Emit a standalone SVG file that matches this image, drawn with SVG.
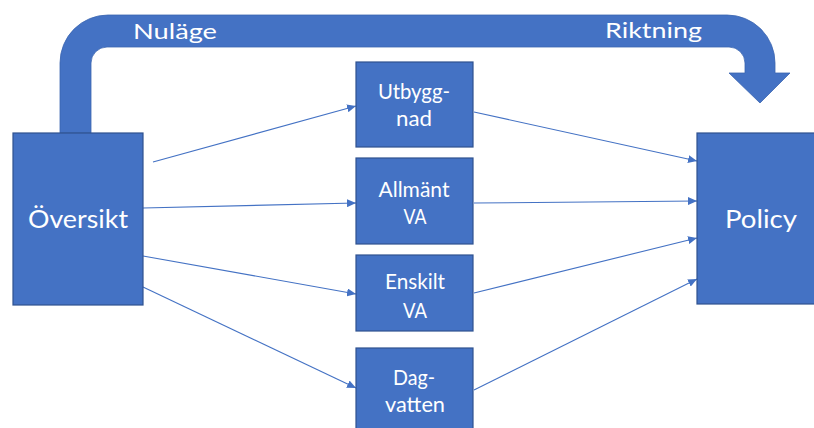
<svg xmlns="http://www.w3.org/2000/svg" width="814" height="428" viewBox="0 0 814 428">
<style>
.box{fill:#4472C4;stroke:#2F528F;stroke-width:1.2}
.big{fill:#4472C4;stroke:#3a64b0;stroke-width:0.8}
.t{fill:#ffffff;font-family:Lato,"Open Sans","Liberation Sans",sans-serif;text-anchor:middle}
.s{font-size:21px}
.l{font-size:25px}
.h{font-size:22px;text-anchor:start}
.c{stroke:#4472C4;stroke-width:1.1;fill:none;marker-end:url(#ah)}
</style>
<defs>
<marker id="ah" markerUnits="userSpaceOnUse" markerWidth="10" markerHeight="8" refX="9" refY="4" orient="auto">
<path d="M0,0 L9,4 L0,8 Z" fill="#4472C4"/>
</marker>
</defs>
<g id="loop-arrow">
<path class="big" d="M60,133 L60,63 A48,48 0 0 1 108,15 L727,15 A48,48 0 0 1 775,63 L775,73 L790,73 L760,103 L729,73 L745,73 L745,63 A16,16 0 0 0 729,47 L107,47 A16,16 0 0 0 91,63 L91,133 Z"/>
<text class="t h" x="133" y="39" textLength="84" lengthAdjust="spacingAndGlyphs">Nuläge</text>
<text class="t h" x="605" y="38" textLength="97" lengthAdjust="spacingAndGlyphs">Riktning</text>
</g>
<g id="connectors">
<line class="c" x1="153" y1="162" x2="356" y2="106"/>
<line class="c" x1="143" y1="208" x2="356" y2="203"/>
<line class="c" x1="143" y1="256" x2="356" y2="294"/>
<line class="c" x1="143" y1="287" x2="356" y2="388"/>
<line class="c" x1="474" y1="112" x2="697" y2="161"/>
<line class="c" x1="474" y1="203" x2="697" y2="201"/>
<line class="c" x1="474" y1="293" x2="697" y2="238"/>
<line class="c" x1="474" y1="390" x2="697" y2="279"/>
</g>
<g id="oversikt">
<rect class="box" x="13" y="133" width="130" height="172"/>
<text class="t l" x="78" y="228" textLength="100" lengthAdjust="spacingAndGlyphs">Översikt</text>
</g>
<g id="policy">
<rect class="box" x="697" y="133" width="130" height="171"/>
<text class="t l" x="761" y="228" textLength="72" lengthAdjust="spacingAndGlyphs">Policy</text>
</g>
<g id="utbyggnad">
<rect class="box" x="356" y="62" width="117" height="85"/>
<text class="t s" x="414" y="99" textLength="72" lengthAdjust="spacingAndGlyphs">Utbygg-</text>
<text class="t s" x="414" y="126" textLength="36" lengthAdjust="spacingAndGlyphs">nad</text>
</g>
<g id="allmant-va">
<rect class="box" x="356" y="158" width="117" height="86"/>
<text class="t s" x="414" y="197" textLength="71" lengthAdjust="spacingAndGlyphs">Allmänt</text>
<text class="t s" x="415" y="224" textLength="23" lengthAdjust="spacingAndGlyphs">VA</text>
</g>
<g id="enskilt-va">
<rect class="box" x="356" y="255" width="117" height="76"/>
<text class="t s" x="415" y="289" textLength="60" lengthAdjust="spacingAndGlyphs">Enskilt</text>
<text class="t s" x="415" y="318" textLength="24" lengthAdjust="spacingAndGlyphs">VA</text>
</g>
<g id="dagvatten">
<rect class="box" x="356" y="348" width="117" height="90"/>
<text class="t s" x="414" y="385" textLength="42" lengthAdjust="spacingAndGlyphs">Dag-</text>
<text class="t s" x="415" y="412" textLength="60" lengthAdjust="spacingAndGlyphs">vatten</text>
</g>
</svg>
